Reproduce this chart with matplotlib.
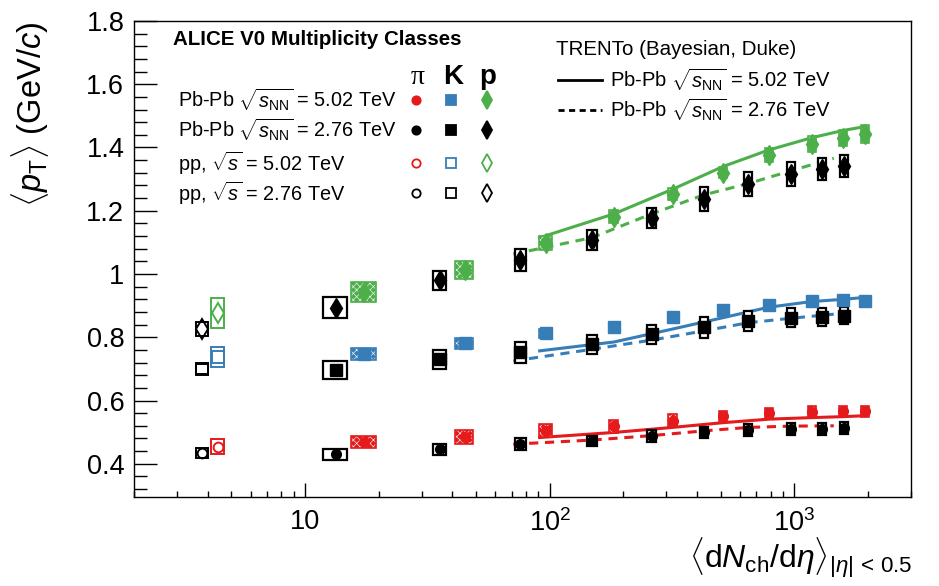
import matplotlib
matplotlib.use('Agg')
import matplotlib.pyplot as plt
from matplotlib.patches import Rectangle
from matplotlib.lines import Line2D
from matplotlib.ticker import MultipleLocator, LogLocator, FuncFormatter, NullFormatter

plt.rcParams['font.family'] = ['Liberation Sans', 'DejaVu Sans']
plt.rcParams['mathtext.fontset'] = 'custom'
plt.rcParams['mathtext.rm'] = 'Liberation Sans'
plt.rcParams['mathtext.it'] = 'Liberation Sans:italic'
plt.rcParams['mathtext.bf'] = 'Liberation Sans:bold'
plt.rcParams['hatch.linewidth'] = 0.45

RED = '#e41a1c'
BLUE = '#377eb8'
GREEN = '#4daf4a'

# <dNch/deta> of the multiplicity classes and their uncertainties
dn_pbpb502 = [17.5, 44.9, 96.3, 183, 318, 512, 786, 1180, 1587, 1943]
dn_pbpb502_err = [2.1, 3.8, 6.0, 8.0, 13, 20, 30, 45, 60, 72]
dn_pbpb276 = [13.4, 35.5, 76, 149, 261, 426, 649, 966, 1294, 1601]
dn_pbpb276_err = [1.5, 2.2, 4.0, 6.5, 10, 16, 24, 36, 48, 60]
dn_pp502 = [4.4]
dn_pp502_err = [0.26]
dn_pp276 = [3.8]
dn_pp276_err = [0.22]

# mean pT (GeV/c) and systematic uncertainties
pi_pbpb502 = [0.470, 0.485, 0.505, 0.518, 0.536, 0.551, 0.559, 0.565, 0.567, 0.566]
pi_pbpb502_sys = [0.019, 0.021, 0.021, 0.021, 0.020, 0.016, 0.016, 0.017, 0.017, 0.018]
pi_pbpb276 = [0.430, 0.446, 0.462, 0.473, 0.488, 0.499, 0.507, 0.511, 0.511, 0.512]
pi_pbpb276_sys = [0.017, 0.018, 0.018, 0.016, 0.018, 0.018, 0.018, 0.019, 0.019, 0.019]
k_pbpb502 = [0.747, 0.781, 0.812, 0.831, 0.864, 0.886, 0.902, 0.915, 0.917, 0.916]
k_pbpb502_sys = [0.020, 0.018, 0.014, 0.012, 0.012, 0.012, 0.012, 0.012, 0.012, 0.012]
k_pbpb276 = [0.696, 0.731, 0.752, 0.778, 0.810, 0.831, 0.852, 0.862, 0.864, 0.868]
k_pbpb276_sys = [0.029, 0.030, 0.032, 0.030, 0.030, 0.034, 0.031, 0.030, 0.029, 0.027]
p_pbpb502 = [0.944, 1.013, 1.098, 1.181, 1.253, 1.320, 1.376, 1.411, 1.430, 1.443]
p_pbpb502_sys = [0.032, 0.028, 0.021, 0.020, 0.018, 0.018, 0.021, 0.024, 0.024, 0.028]
p_pbpb276 = [0.894, 0.980, 1.045, 1.108, 1.177, 1.237, 1.285, 1.316, 1.332, 1.342]
p_pbpb276_sys = [0.034, 0.030, 0.034, 0.032, 0.033, 0.038, 0.037, 0.037, 0.035, 0.034]

pi_pp502, pi_pp502_sys = [0.454], [0.023]
pi_pp276, pi_pp276_sys = [0.434], [0.015]
k_pp502, k_pp502_sys = [0.738], [0.031]
k_pp276, k_pp276_sys = [0.699], [0.015]
p_pp502, p_pp502_sys = [0.876], [0.048]
p_pp276, p_pp276_sys = [0.826], [0.023]

# TRENTo model curves
dn_model502 = [91, 183, 318, 512, 786, 1180, 1587, 1943]
pi_model502 = [0.483, 0.499, 0.515, 0.530, 0.541, 0.546, 0.549, 0.552]
k_model502 = [0.757, 0.785, 0.826, 0.862, 0.895, 0.913, 0.920, 0.926]
p_model502 = [1.115, 1.190, 1.268, 1.340, 1.392, 1.431, 1.454, 1.466]
dn_model276 = [71, 149, 261, 426, 649, 966, 1450]
pi_model276 = [0.462, 0.475, 0.489, 0.504, 0.515, 0.519, 0.520]
k_model276 = [0.725, 0.762, 0.791, 0.820, 0.846, 0.860, 0.873]
p_model276 = [1.063, 1.115, 1.190, 1.250, 1.286, 1.326, 1.366]

fig = plt.figure(figsize=(9.39, 5.86), dpi=100)
ax = fig.add_axes([0.1427, 0.1519, 0.8275, 0.8123])
ax.set_xscale('log')
ax.set_xlim(2, 3000)
ax.set_ylim(0.295, 1.8)


def sys_boxes(x, xe, y, ye, color, style):
    for xi, dxi, yi, dyi in zip(x, xe, y, ye):
        xy = (xi - dxi, yi - dyi)
        w, h = 2 * dxi, 2 * dyi
        if style == 'shaded':
            ax.add_patch(Rectangle(xy, w, h, facecolor=color, edgecolor='#f4f4f4',
                                   hatch='xxxxx', lw=0, zorder=3))
            ax.add_patch(Rectangle(xy, w, h, facecolor='none', edgecolor=color,
                                   lw=1.2, zorder=3))
        elif style == 'white':
            ax.add_patch(Rectangle(xy, w, h, facecolor='white', edgecolor=color,
                                   lw=1.6, zorder=3))
        else:
            ax.add_patch(Rectangle(xy, w, h, facecolor='none', edgecolor=color,
                                   lw=1.4, zorder=3))


# model lines
for ym, c in [(pi_model502, RED), (k_model502, BLUE), (p_model502, GREEN)]:
    ax.plot(dn_model502, ym, color=c, lw=2.2, zorder=2)
for ym, c in [(pi_model276, RED), (k_model276, BLUE), (p_model276, GREEN)]:
    ax.plot(dn_model276, ym, color=c, lw=2.2, ls=(0, (3, 2.2)), zorder=2)

species = [
    ('o', 7, pi_pbpb502, pi_pbpb502_sys, pi_pbpb276, pi_pbpb276_sys,
     pi_pp502, pi_pp502_sys, pi_pp276, pi_pp276_sys, RED),
    ('s', 8, k_pbpb502, k_pbpb502_sys, k_pbpb276, k_pbpb276_sys,
     k_pp502, k_pp502_sys, k_pp276, k_pp276_sys, BLUE),
    ('d', 10, p_pbpb502, p_pbpb502_sys, p_pbpb276, p_pbpb276_sys,
     p_pp502, p_pp502_sys, p_pp276, p_pp276_sys, GREEN),
]

for m, ms, y502, s502, y276, s276, ypp5, spp5, ypp2, spp2, c in species:
    sys_boxes(dn_pbpb276, dn_pbpb276_err, y276, s276, 'black', 'white')
    ax.plot(dn_pbpb276, y276, ls='none', marker=m, ms=ms, color='black',
            mec='black', zorder=5)
    sys_boxes(dn_pbpb502, dn_pbpb502_err, y502, s502, c, 'shaded')
    ax.plot(dn_pbpb502, y502, ls='none', marker=m, ms=ms, color=c, mec=c, zorder=5)
    sys_boxes(dn_pp276, dn_pp276_err, ypp2, spp2, 'black', 'open')
    ax.plot(dn_pp276, ypp2, ls='none', marker=m, ms=ms, mfc='none',
            mec='black', mew=1.4, zorder=5)
    sys_boxes(dn_pp502, dn_pp502_err, ypp5, spp5, c, 'open')
    ax.plot(dn_pp502, ypp5, ls='none', marker=m, ms=ms, mfc='none',
            mec=c, mew=1.4, zorder=5)

# axes styling
for s in ax.spines.values():
    s.set_linewidth(1.0)
ax.yaxis.set_major_locator(MultipleLocator(0.2))
ax.yaxis.set_minor_locator(MultipleLocator(0.04))
ax.yaxis.set_major_formatter(FuncFormatter(lambda v, p: f'{v:g}'))
ax.xaxis.set_major_locator(LogLocator(base=10, numticks=10))
ax.xaxis.set_minor_locator(LogLocator(base=10, subs=range(2, 10), numticks=20))
ax.xaxis.set_minor_formatter(NullFormatter())
xlabels = {10: '10', 100: r'$10^{2}$', 1000: r'$10^{3}$'}
ax.xaxis.set_major_formatter(FuncFormatter(lambda v, p: xlabels.get(int(round(v)), '')))
ax.tick_params(which='both', direction='in', top=False, right=False, width=1.0)
ax.tick_params(axis='y', which='major', length=16.5, labelsize=19.5, pad=7)
ax.tick_params(axis='y', which='minor', length=9.5)
ax.tick_params(axis='x', which='major', length=10, labelsize=19.5, pad=9)
ax.tick_params(axis='x', which='minor', length=4.6)

fig.text(30 / 939, 1 - 22 / 586, r'$\langle p_{\rm T} \rangle$ (GeV/$c$)', fontsize=23.5,
         rotation=90, ha='center', va='top')
fig.text(912 / 939, 1 - 568 / 586,
         r'$\langle {\rm d}N_{\rm ch}/{\rm d}\eta \rangle_{|\eta|\,<\,0.5}$',
         fontsize=23, ha='right', va='baseline')


# legends, placed in pixel coordinates of the axes box
def axpos(px, py):
    return (px - 134) / (911 - 134), (497 - py) / (497 - 21)


ax.text(*axpos(173, 40), 'ALICE V0 Multiplicity Classes', transform=ax.transAxes,
        fontsize=14.8, fontweight='bold', va='center', ha='left')
ax.text(*axpos(418, 78), 'π', transform=ax.transAxes, fontsize=20,
        family='Liberation Serif', ha='center', va='center')
ax.text(*axpos(453, 77), 'K', transform=ax.transAxes, fontsize=20,
        fontweight='bold', ha='center', va='center')
ax.text(*axpos(488, 77), 'p', transform=ax.transAxes, fontsize=20,
        fontweight='bold', ha='center', va='center')

rows = [
    (r'Pb-Pb $\sqrt{s_{\rm NN}}$ = 5.02 TeV', 100, [RED, BLUE, GREEN], True),
    (r'Pb-Pb $\sqrt{s_{\rm NN}}$ = 2.76 TeV', 130, ['black'] * 3, True),
    (r'pp, $\sqrt{s}$ = 5.02 TeV', 163, [RED, BLUE, GREEN], False),
    (r'pp, $\sqrt{s}$ = 2.76 TeV', 193, ['black'] * 3, False),
]
for label, py, cols, filled in rows:
    ax.text(*axpos(178, py), label, transform=ax.transAxes, fontsize=14.3,
            ha='left', va='center')
    for px, m, ms, c in zip([416, 451, 487], ['o', 's', 'd'], [6, 6.5, 9], cols):
        ax.add_line(Line2D([axpos(px, py)[0]], [axpos(px, py)[1]], marker=m, ms=ms,
                           mfc=c if filled else 'none', mec=c, mew=1.3, ls='none',
                           transform=ax.transAxes))

ax.text(*axpos(556, 50), 'TRENTo (Bayesian, Duke)', transform=ax.transAxes,
        fontsize=14.8, ha='left', va='center')
for py, ls, label in [(80, '-', r'Pb-Pb $\sqrt{s_{\rm NN}}$ = 5.02 TeV'),
                      (110, (0, (2.2, 1.6)), r'Pb-Pb $\sqrt{s_{\rm NN}}$ = 2.76 TeV')]:
    x0, y0 = axpos(558, py)
    x1, _ = axpos(602, py)
    ax.add_line(Line2D([x0, x1], [y0, y0], color='black', lw=2, ls=ls,
                       transform=ax.transAxes))
    ax.text(*axpos(610, py), label, transform=ax.transAxes, fontsize=14.5,
            ha='left', va='center')

fig.savefig('out.png', dpi=100)
